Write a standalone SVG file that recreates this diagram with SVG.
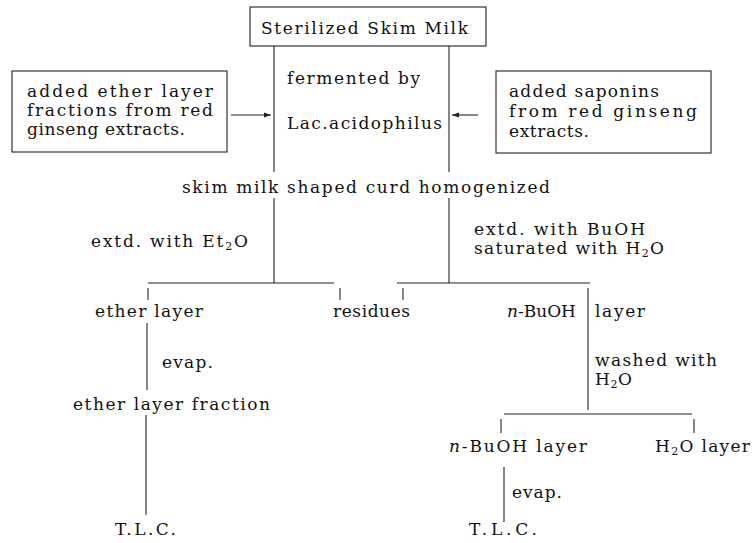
<svg xmlns="http://www.w3.org/2000/svg" width="754" height="543" viewBox="0 0 754 543">
<defs>
<style>
text{font-family:"DejaVu Serif","Liberation Serif",serif;font-size:17px;fill:#111}
.sub{font-size:11px}
.it{font-style:italic}
.box{fill:none;stroke:#222;stroke-width:1.1}
.ln{fill:none;stroke:#222;stroke-width:1.1}
</style>
<marker id="ah" viewBox="0 0 10 10" refX="10" refY="5" markerWidth="7" markerHeight="7" orient="auto" markerUnits="userSpaceOnUse">
<path d="M0,1.5 L10,5 L0,8.5 z" fill="#222"/>
</marker>
</defs>
<rect width="754" height="543" fill="#fff"/>

<g id="connectors">
<line class="ln" x1="274" y1="46" x2="274" y2="172"/>
<line class="ln" x1="274" y1="198" x2="274" y2="283"/>
<line class="ln" x1="449" y1="46" x2="449" y2="172"/>
<line class="ln" x1="449" y1="198" x2="449" y2="283"/>
<line class="ln" x1="231" y1="115" x2="271" y2="115" marker-end="url(#ah)"/>
<line class="ln" x1="478" y1="115" x2="452" y2="115" marker-end="url(#ah)"/>
<line class="ln" x1="148" y1="283" x2="334" y2="283"/>
<line class="ln" x1="148" y1="288" x2="148" y2="300"/>
<line class="ln" x1="340" y1="288" x2="340" y2="300"/>
<line class="ln" x1="397" y1="283" x2="590" y2="283"/>
<line class="ln" x1="403" y1="288" x2="403" y2="300"/>
<line class="ln" x1="588" y1="288" x2="588" y2="410"/>
<line class="ln" x1="147" y1="323" x2="147" y2="390"/>
<line class="ln" x1="146" y1="415" x2="146" y2="515"/>
<line class="ln" x1="504" y1="414" x2="692" y2="414"/>
<line class="ln" x1="501" y1="419" x2="501" y2="433"/>
<line class="ln" x1="694" y1="419" x2="694" y2="433"/>
<line class="ln" x1="504" y1="467" x2="504" y2="522"/>
</g>

<g id="n-sterilized">
<rect class="box" x="250" y="7" width="236" height="39"/>
<text x="261" y="34" textLength="207" lengthAdjust="spacing">Sterilized Skim Milk</text>
</g>

<g id="n-ether-added">
<rect class="box" x="12" y="71" width="215" height="81"/>
<text x="27" y="97" textLength="186" lengthAdjust="spacing">added ether layer</text>
<text x="27" y="116" textLength="186" lengthAdjust="spacing">fractions from red</text>
<text x="27" y="135" textLength="158" lengthAdjust="spacing">ginseng extracts.</text>
</g>

<g id="n-saponins-added">
<rect class="box" x="496" y="71" width="215" height="82"/>
<text x="509" y="97" textLength="150" lengthAdjust="spacing">added saponins</text>
<text x="509" y="117" textLength="188" lengthAdjust="spacing">from red ginseng</text>
<text x="509" y="137" textLength="80" lengthAdjust="spacing">extracts.</text>
</g>

<g id="n-fermented">
<text x="287" y="84" textLength="133" lengthAdjust="spacing">fermented by</text>
<text x="287" y="129" textLength="155" lengthAdjust="spacing">Lac.acidophilus</text>
</g>

<g id="n-curd">
<text x="182" y="193" textLength="368" lengthAdjust="spacing">skim milk shaped curd homogenized</text>
</g>

<g id="n-extd-ether">
<text x="91" y="247" textLength="157" lengthAdjust="spacing">extd. with Et<tspan class="sub" dy="3">2</tspan><tspan dy="-3">O</tspan></text>
</g>

<g id="n-extd-buoh">
<text x="474" y="235" textLength="171" lengthAdjust="spacing">extd. with BuOH</text>
<text x="474" y="254" textLength="190" lengthAdjust="spacing">saturated with H<tspan class="sub" dy="3">2</tspan><tspan dy="-3">O</tspan></text>
</g>

<g id="n-ether-layer">
<text x="95" y="317" textLength="108" lengthAdjust="spacing">ether layer</text>
</g>

<g id="n-residues">
<text x="333" y="317" textLength="77" lengthAdjust="spacing">residues</text>
</g>

<g id="n-buoh-layer">
<text x="507" y="317"><tspan class="it">n</tspan>-BuOH</text>
<text x="595" y="317" textLength="50" lengthAdjust="spacing">layer</text>
</g>

<g id="n-evap1">
<text x="162" y="368" textLength="51" lengthAdjust="spacing">evap.</text>
</g>

<g id="n-washed">
<text x="595" y="366" textLength="122" lengthAdjust="spacing">washed with</text>
<text x="595" y="385" textLength="37" lengthAdjust="spacing">H<tspan class="sub" dy="3">2</tspan><tspan dy="-3">O</tspan></text>
</g>

<g id="n-ether-fraction">
<text x="73" y="410" textLength="197" lengthAdjust="spacing">ether layer fraction</text>
</g>

<g id="n-buoh-layer2">
<text x="449" y="452" textLength="138" lengthAdjust="spacing"><tspan class="it">n</tspan>-BuOH layer</text>
</g>

<g id="n-h2o-layer">
<text x="655" y="452" textLength="95" lengthAdjust="spacing">H<tspan class="sub" dy="3">2</tspan><tspan dy="-3">O layer</tspan></text>
</g>

<g id="n-evap2">
<text x="512" y="498" textLength="50" lengthAdjust="spacing">evap.</text>
</g>

<g id="n-tlc1">
<text x="115" y="535" textLength="61" lengthAdjust="spacing">T.L.C.</text>
</g>

<g id="n-tlc2">
<text x="469" y="535" textLength="68" lengthAdjust="spacing">T.L.C.</text>
</g>
</svg>
